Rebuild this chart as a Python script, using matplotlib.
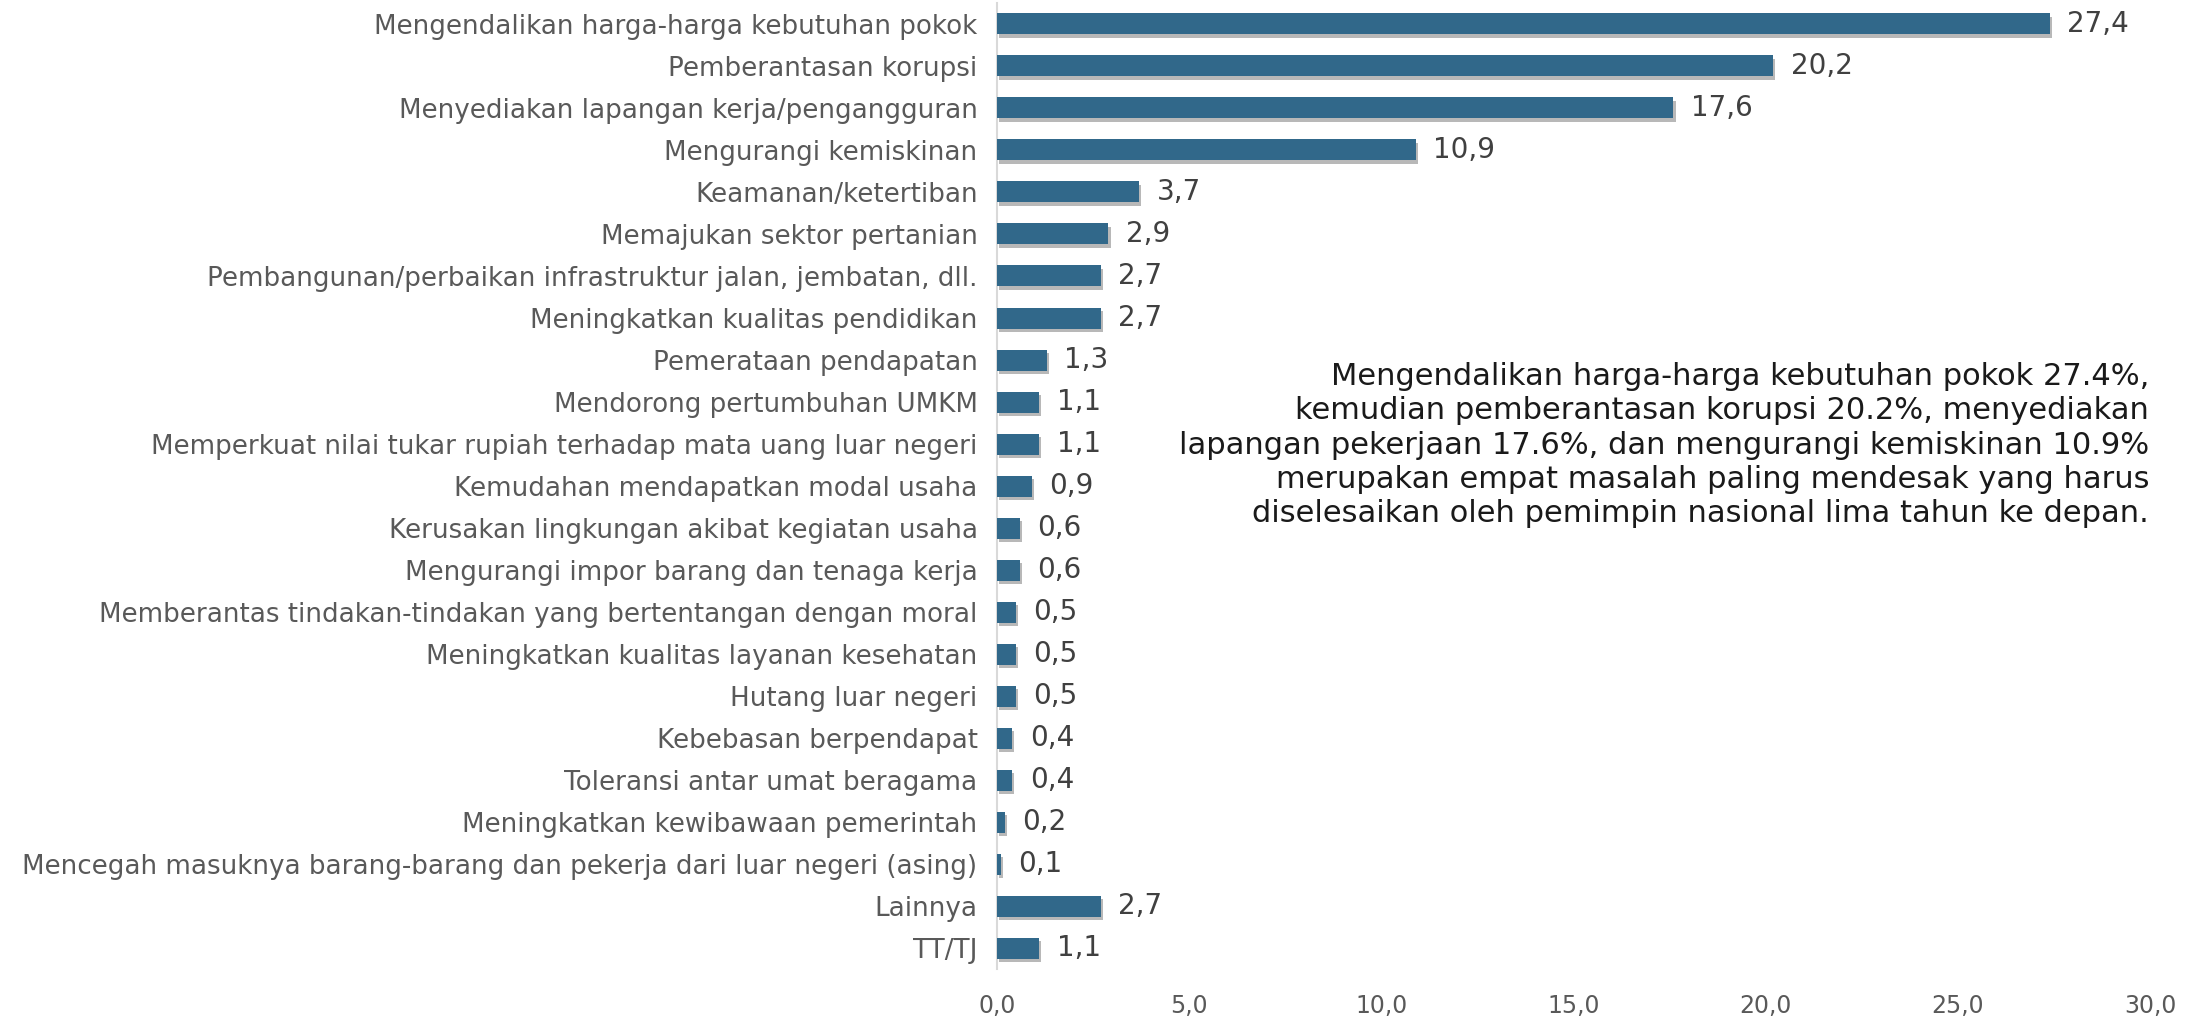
import matplotlib
matplotlib.use("Agg")
import matplotlib.pyplot as plt
import matplotlib.patheffects as pe

plt.rcParams['font.family'] = ['DejaVu Sans']

# data
labels = [
    "Mengendalikan harga-harga kebutuhan pokok",
    "Pemberantasan korupsi",
    "Menyediakan lapangan kerja/pengangguran",
    "Mengurangi kemiskinan",
    "Keamanan/ketertiban",
    "Memajukan sektor pertanian",
    "Pembangunan/perbaikan infrastruktur jalan, jembatan, dll.",
    "Meningkatkan kualitas pendidikan",
    "Pemerataan pendapatan",
    "Mendorong pertumbuhan UMKM",
    "Memperkuat nilai tukar rupiah terhadap mata uang luar negeri",
    "Kemudahan mendapatkan modal usaha",
    "Kerusakan lingkungan akibat kegiatan usaha",
    "Mengurangi impor barang dan tenaga kerja",
    "Memberantas tindakan-tindakan yang bertentangan dengan moral",
    "Meningkatkan kualitas layanan kesehatan",
    "Hutang luar negeri",
    "Kebebasan berpendapat",
    "Toleransi antar umat beragama",
    "Meningkatkan kewibawaan pemerintah",
    "Mencegah masuknya barang-barang dan pekerja dari luar negeri (asing)",
    "Lainnya",
    "TT/TJ",
]
values = [27.4, 20.2, 17.6, 10.9, 3.7, 2.9, 2.7, 2.7, 1.3, 1.1, 1.1, 0.9,
          0.6, 0.6, 0.5, 0.5, 0.5, 0.4, 0.4, 0.2, 0.1, 2.7, 1.1]
xticks = [0, 5, 10, 15, 20, 25, 30]

note = ("Mengendalikan harga-harga kebutuhan pokok 27.4%,\n"
        "kemudian pemberantasan korupsi 20.2%, menyediakan\n"
        "lapangan pekerjaan 17.6%, dan mengurangi kemiskinan 10.9%\n"
        "merupakan empat masalah paling mendesak yang harus\n"
        "diselesaikan oleh pemimpin nasional lima tahun ke depan.")

bar_color = "#31688a"
text_color = "#404040"

fig = plt.figure(figsize=(21.98, 10.19), dpi=100)
ax = fig.add_axes([997 / 2198, 1 - 969 / 1019, 1153 / 2198, 966 / 1019])

pos = list(range(len(labels)))
bars = ax.barh(pos, values, height=0.5, color=bar_color, zorder=3)
for b in bars:
    b.set_path_effects([pe.SimplePatchShadow(offset=(1.5, -2.5), shadow_rgbFace="#7f7f7f", alpha=0.55),
                        pe.Normal()])

for p, v in zip(pos, values):
    ax.text(v + 0.45, p, f"{v:.1f}".replace(".", ","), va="center", ha="left",
            fontsize=20, color=text_color)

ax.set_ylim(len(labels) - 0.5, -0.5)
ax.set_xlim(0, 30)
ax.set_yticks(pos)
ax.set_yticklabels(labels, fontsize=18.8, color="#595959")
ax.set_xticks(xticks)
ax.set_xticklabels([f"{t:.1f}".replace(".", ",") for t in xticks], fontsize=17, color="#595959")
ax.tick_params(axis="both", length=0)
ax.tick_params(axis="y", pad=14)
ax.tick_params(axis="x", pad=18)

for s in ["top", "right", "bottom"]:
    ax.spines[s].set_visible(False)
ax.spines["left"].set_color("#d9d9d9")
ax.spines["left"].set_linewidth(1.5)

fig.text(2149 / 2198, 1 - 445 / 1019, note, ha="right", va="center", fontsize=22,
         color="#1a1a1a", linespacing=1.22, multialignment="right")

fig.savefig("out.png", dpi=100)
